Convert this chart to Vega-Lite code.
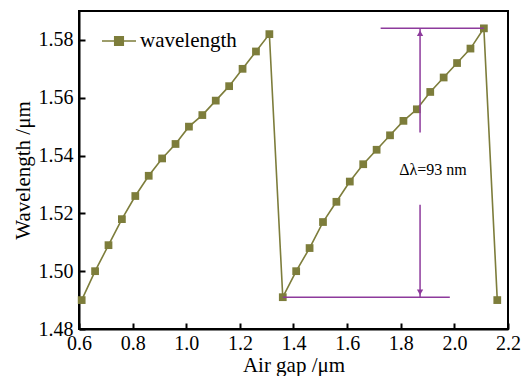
{
  "$schema": "https://vega.github.io/schema/vega-lite/v6.json",
  "width": 429,
  "height": 318,
  "autosize": {"type": "none"},
  "padding": {"left": 79, "top": 11, "right": 13, "bottom": 47},
  "background": "white",
  "config": {
    "view": {"stroke": "black", "strokeWidth": 2},
    "font": "Liberation Serif",
    "axis": {
      "grid": false,
      "domainColor": "black",
      "domainWidth": 2,
      "tickColor": "black",
      "tickWidth": 2,
      "tickSize": -6,
      "labelFlush": false,
      "labelFont": "Liberation Serif",
      "labelFontSize": 20,
      "labelColor": "black",
      "titleFont": "Liberation Serif",
      "titleFontSize": 21,
      "titleFontWeight": "normal",
      "titleColor": "black"
    }
  },
  "datasets": {
    "wl": [
      {"gap": 0.61, "wavelength": 1.490},
      {"gap": 0.66, "wavelength": 1.500},
      {"gap": 0.71, "wavelength": 1.509},
      {"gap": 0.76, "wavelength": 1.518},
      {"gap": 0.81, "wavelength": 1.526},
      {"gap": 0.86, "wavelength": 1.533},
      {"gap": 0.91, "wavelength": 1.539},
      {"gap": 0.96, "wavelength": 1.544},
      {"gap": 1.01, "wavelength": 1.550},
      {"gap": 1.06, "wavelength": 1.554},
      {"gap": 1.11, "wavelength": 1.559},
      {"gap": 1.16, "wavelength": 1.564},
      {"gap": 1.21, "wavelength": 1.570},
      {"gap": 1.26, "wavelength": 1.576},
      {"gap": 1.31, "wavelength": 1.582},
      {"gap": 1.36, "wavelength": 1.491},
      {"gap": 1.41, "wavelength": 1.500},
      {"gap": 1.46, "wavelength": 1.508},
      {"gap": 1.51, "wavelength": 1.517},
      {"gap": 1.56, "wavelength": 1.524},
      {"gap": 1.61, "wavelength": 1.531},
      {"gap": 1.66, "wavelength": 1.537},
      {"gap": 1.71, "wavelength": 1.542},
      {"gap": 1.76, "wavelength": 1.547},
      {"gap": 1.81, "wavelength": 1.552},
      {"gap": 1.86, "wavelength": 1.556},
      {"gap": 1.91, "wavelength": 1.562},
      {"gap": 1.96, "wavelength": 1.567},
      {"gap": 2.01, "wavelength": 1.572},
      {"gap": 2.06, "wavelength": 1.577},
      {"gap": 2.11, "wavelength": 1.584},
      {"gap": 2.16, "wavelength": 1.490}
    ],
    "hlines": [
      {"x": 1.725, "x2": 2.11, "y": 1.584},
      {"x": 1.36, "x2": 1.983, "y": 1.491}
    ],
    "vlines": [
      {"x": 1.872, "y": 1.548, "y2": 1.584},
      {"x": 1.872, "y": 1.523, "y2": 1.491}
    ],
    "headUp": [{"x": 1.872, "y": 1.584}],
    "headDown": [{"x": 1.872, "y": 1.491}],
    "label": [{"x": 1.92, "y": 1.535, "text": "Δλ=93 nm"}]
  },
  "layer": [
    {
      "data": {"name": "wl"},
      "mark": {
        "type": "line",
        "strokeWidth": 1.6,
        "point": {"shape": "square", "filled": true, "size": 60, "opacity": 1}
      },
      "encoding": {
        "x": {
          "field": "gap", "type": "quantitative",
          "scale": {"domain": [0.6, 2.2], "nice": false, "zero": false},
          "axis": {"values": [0.6, 0.8, 1.0, 1.2, 1.4, 1.6, 1.8, 2.0, 2.2], "format": ".1f", "title": "Air gap /μm", "labelPadding": 10, "titlePadding": 1}
        },
        "y": {
          "field": "wavelength", "type": "quantitative",
          "scale": {"domain": [1.48, 1.59], "nice": false, "zero": false},
          "axis": {"values": [1.48, 1.5, 1.52, 1.54, 1.56, 1.58], "format": ".2f", "title": "Wavelength /μm", "labelPadding": 12, "titlePadding": 5}
        },
        "color": {
          "datum": "wavelength",
          "type": "nominal",
          "scale": {"range": ["#7d7d3b"]},
          "legend": {
            "title": null,
            "orient": "none",
            "legendX": 22,
            "legendY": 12,
            "symbolType": "M-1,0H-0.25M0.25,0H1M-0.25,-0.25H0.25V0.25H-0.25Z",
            "symbolSize": 1156,
            "symbolStrokeWidth": 1.6,
            "symbolFillColor": "#7d7d3b",
            "symbolStrokeColor": "#7d7d3b",
            "labelFont": "Liberation Serif",
            "labelFontSize": 21,
            "labelColor": "black",
            "labelOffset": 3
          }
        }
      }
    },
    {
      "data": {"name": "hlines"},
      "mark": {"type": "rule", "color": "#8d3a9c", "strokeWidth": 1.5},
      "encoding": {
        "x": {"field": "x", "type": "quantitative"},
        "x2": {"field": "x2"},
        "y": {"field": "y", "type": "quantitative"}
      }
    },
    {
      "data": {"name": "vlines"},
      "mark": {"type": "rule", "color": "#8d3a9c", "strokeWidth": 1.5},
      "encoding": {
        "x": {"field": "x", "type": "quantitative"},
        "y": {"field": "y", "type": "quantitative"},
        "y2": {"field": "y2"}
      }
    },
    {
      "data": {"name": "headUp"},
      "mark": {"type": "point", "shape": "triangle-up", "filled": true, "size": 40, "color": "#8d3a9c", "opacity": 1, "yOffset": 5},
      "encoding": {
        "x": {"field": "x", "type": "quantitative"},
        "y": {"field": "y", "type": "quantitative"}
      }
    },
    {
      "data": {"name": "headDown"},
      "mark": {"type": "point", "shape": "triangle-down", "filled": true, "size": 40, "color": "#8d3a9c", "opacity": 1, "yOffset": -5},
      "encoding": {
        "x": {"field": "x", "type": "quantitative"},
        "y": {"field": "y", "type": "quantitative"}
      }
    },
    {
      "data": {"name": "label"},
      "mark": {"type": "text", "font": "Liberation Serif", "fontSize": 16, "color": "black"},
      "encoding": {
        "x": {"field": "x", "type": "quantitative"},
        "y": {"field": "y", "type": "quantitative"},
        "text": {"field": "text"}
      }
    }
  ]
}
